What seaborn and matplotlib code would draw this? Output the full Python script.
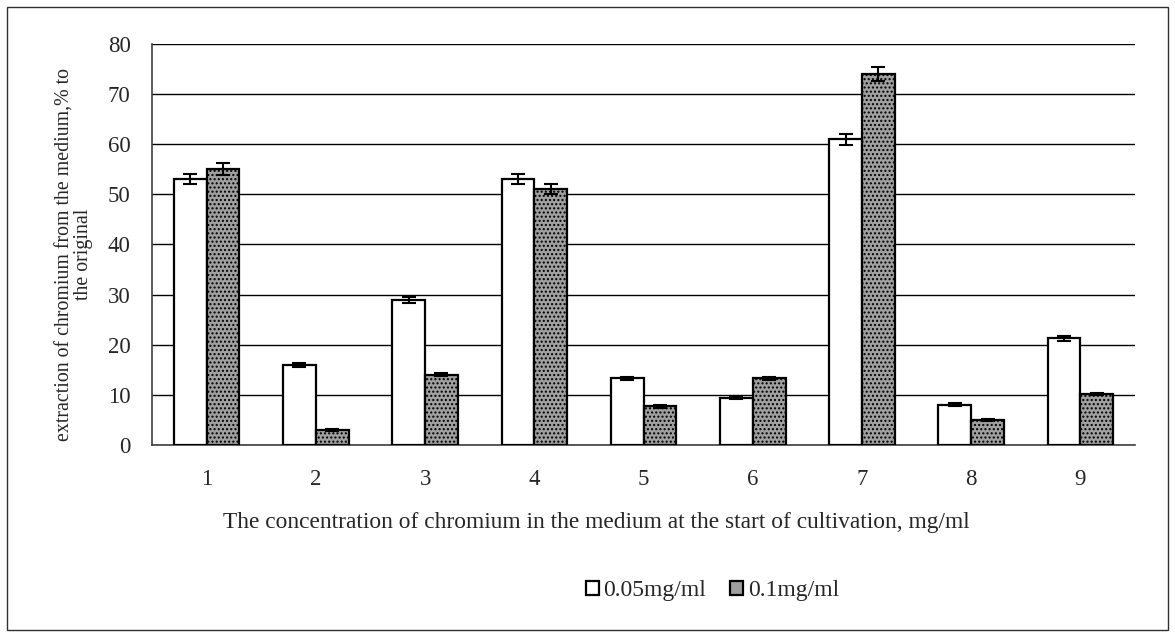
import matplotlib
matplotlib.use("Agg")
import matplotlib.pyplot as plt
import seaborn as sns
import pandas as pd
import numpy as np
from matplotlib.patches import Rectangle

categories = ["1", "2", "3", "4", "5", "6", "7", "8", "9"]
series_names = ["0.05mg/ml", "0.1mg/ml"]
low_values = [53.0, 16.0, 29.0, 53.0, 13.3, 9.4, 61.0, 8.0, 21.3]
high_values = [55.0, 3.0, 14.0, 51.0, 7.7, 13.3, 74.0, 5.0, 10.1]
low_errors = [1.0, 0.4, 0.6, 1.0, 0.3, 0.3, 1.1, 0.3, 0.5]
high_errors = [1.2, 0.2, 0.3, 1.0, 0.3, 0.3, 1.4, 0.2, 0.2]

df = pd.DataFrame({
    "cat": categories * 2,
    "series": [series_names[0]] * 9 + [series_names[1]] * 9,
    "value": low_values + high_values,
})

sns.set_style("white")
plt.rcParams["font.family"] = ["Liberation Serif", "DejaVu Serif"]
plt.rcParams["hatch.linewidth"] = 1.0
plt.rcParams["hatch.color"] = "#4a4a4a"

fig = plt.figure(figsize=(11.75, 6.37), dpi=100)
ax = fig.add_axes([0.1294, 0.3014, 0.8366, 0.6296])

sns.barplot(data=df, x="cat", y="value", hue="series", order=categories,
            hue_order=series_names, palette=["white", "#a0a0a0"],
            width=0.6, gap=0, errorbar=None, edgecolor="black",
            linewidth=1.6, ax=ax, legend=True, zorder=3)

# hatch the second series
n = len(categories)
bars = list(ax.patches)[:2 * n]
for p in bars[n:2 * n]:
    p.set_hatch("....")

# error bars
errs = low_errors + high_errors
vals = low_values + high_values
xs = [p.get_x() + p.get_width() / 2 for p in bars]
ax.errorbar(xs, vals, yerr=errs, fmt="none", ecolor="black",
            elinewidth=1.5, capsize=5, capthick=1.5, zorder=4)

ax.set_ylim(0, 80)
ax.set_xlim(-0.5, n - 0.5)
ax.set_yticks(np.arange(0, 81, 10))
ax.yaxis.grid(True, color="black", linewidth=1.0, zorder=0)
ax.set_axisbelow(True)
for s in ["top", "right"]:
    ax.spines[s].set_visible(False)
for s in ["left", "bottom"]:
    ax.spines[s].set_color("#404040")
    ax.spines[s].set_linewidth(1.2)

# category boundary ticks on the x axis, labels centred
ax.set_xticks(np.arange(n))
ax.set_xticklabels(categories)
ax.tick_params(axis="x", which="major", length=0, pad=17, labelsize=16.5)
ax.set_xticks(np.arange(-0.5, n, 1.0), minor=True)
ax.tick_params(axis="x", which="minor", length=6, width=1.0, color="#404040")
ax.tick_params(axis="y", length=6, width=1.0, color="#404040", labelsize=16.5, pad=9.5)

ax.set_xlabel("The concentration of chromium in the medium at the start of cultivation, mg/ml",
              fontsize=16.8)
ax.xaxis.set_label_coords(0.452, -0.167)
ax.set_ylabel("extraction of chromium from the medium,% to\nthe original",
              fontsize=14.3, linespacing=1.0)
ax.yaxis.set_label_coords(-0.06, 0.476)

handles, labels = ax.get_legend_handles_labels()
ax.legend(handles, labels, loc="center", bbox_to_anchor=(0.570, -0.364),
          ncol=2, frameon=False, fontsize=17, handlelength=0.55, handleheight=0.55,
          handletextpad=0.2, columnspacing=1.0)

fig.patches.append(Rectangle((7 / 1175, 7 / 637), 1161 / 1175, 623 / 637,
                             transform=fig.transFigure, fill=False,
                             edgecolor="#303030", linewidth=1.0))

fig.savefig("out.png", dpi=100, facecolor="white")
